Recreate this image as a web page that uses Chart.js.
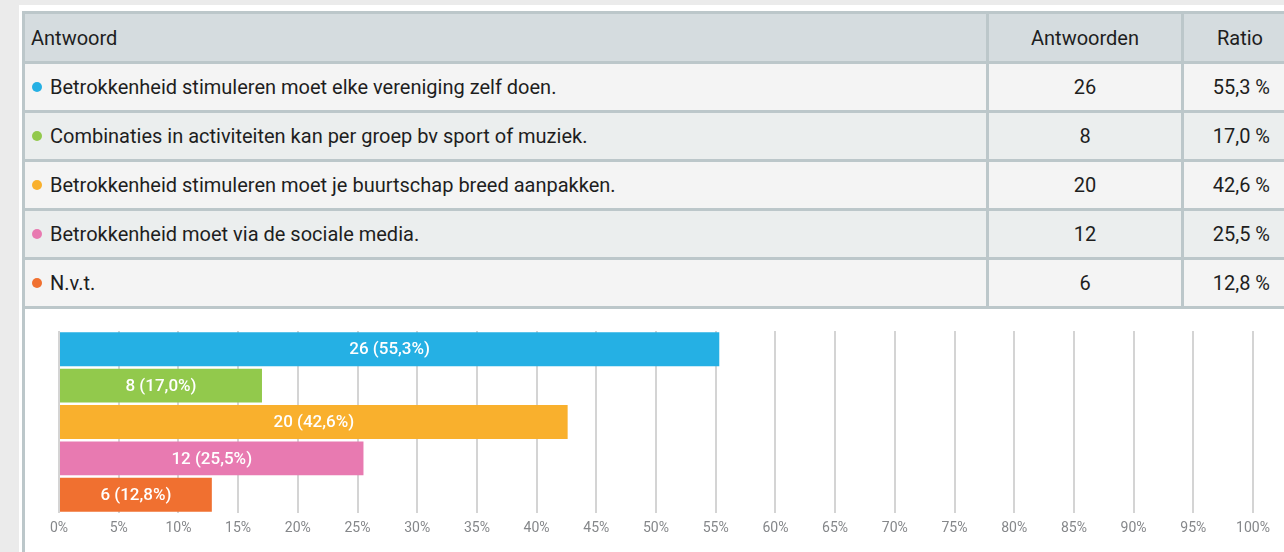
<!DOCTYPE html>
<html>
<head>
    <title>Antwoorden</title>
    <script src="https://cdn.jsdelivr.net/npm/chart.js"></script>
    <style>
        body {
            margin: 0;
            background-color: #ebebeb;
            font-family: Roboto, "Noto Sans", sans-serif;
            overflow: hidden;
            width: 1284px;
            height: 552px;
        }

        .panel {
            position: absolute;
            left: 19px;
            top: 5px;
            width: 1300px;
            height: 560px;
            background-color: #fff;
        }

        table {
            position: absolute;
            left: 3px;
            top: 6px;
            border-collapse: collapse;
            table-layout: fixed;
            width: 1300px;
            color: #1e1e1e;
            font-size: 20px;
        }

        td, th {
            border: 3px solid #bcc7ca;
            height: 46px;
            padding: 0;
            font-weight: normal;
        }

        th {
            background-color: #d5dcdf;
            height: 47px;
        }

        tr.odd td { background-color: #f4f4f4; }
        tr.even td { background-color: #ebeeee; }

        .c1 { text-align: left; padding-left: 6px; }
        .c2 { text-align: center; }
        .c3 { text-align: right; padding-right: 52px; }
        th.c3 { text-align: left; padding-left: 33px; }

        .dot {
            display: inline-block;
            width: 10px;
            height: 10px;
            border-radius: 50%;
            margin: 0 8px 2px 1px;
        }

        .chart-box {
            position: absolute;
            left: 3px;
            top: 300px;
            width: 1300px;
            height: 260px;
            border-left: 3px solid #bcc7ca;
        }

        #chartWrap {
            position: absolute;
            left: 25px;
            top: 310px;
            width: 1259px;
            height: 242px;
        }
    </style>
</head>
<body>
    <div class="panel">
        <div class="chart-box"></div>
        <table>
            <colgroup>
                <col style="width: 964px">
                <col style="width: 195px">
                <col style="width: 141px">
            </colgroup>
            <thead>
                <tr>
                    <th class="c1">Antwoord</th>
                    <th class="c2">Antwoorden</th>
                    <th class="c3">Ratio</th>
                </tr>
            </thead>
            <tbody id="rows"></tbody>
        </table>
    </div>
    <div id="chartWrap"><canvas id="chart"></canvas></div>

    <script>
        var answers = [
            'Betrokkenheid stimuleren moet elke vereniging zelf doen.',
            'Combinaties in activiteiten kan per groep bv sport of muziek.',
            'Betrokkenheid stimuleren moet je buurtschap breed aanpakken.',
            'Betrokkenheid moet via de sociale media.',
            'N.v.t.'
        ];
        var counts = [26, 8, 20, 12, 6];
        var ratios = [55.3, 17.0, 42.6, 25.5, 12.8];
        var colors = ['#25b0e4', '#92c94c', '#f9b02d', '#e87ab1', '#f07030'];

        function fmt(v) {
            return v.toFixed(1).replace('.', ',');
        }

        // Fill the table
        var rowsEl = document.getElementById('rows');
        answers.forEach(function(a, i) {
            var tr = document.createElement('tr');
            tr.className = i % 2 === 0 ? 'odd' : 'even';
            tr.innerHTML =
                '<td class="c1"><span class="dot" style="background:' + colors[i] + '"></span>' + a + '</td>' +
                '<td class="c2">' + counts[i] + '</td>' +
                '<td class="c3">' + fmt(ratios[i]) + ' %</td>';
            rowsEl.appendChild(tr);
        });

        // Labels inside the bars
        var barLabels = {
            id: 'barLabels',
            afterDatasetsDraw: function(chart) {
                var ctx = chart.ctx;
                var meta = chart.getDatasetMeta(0);
                ctx.save();
                ctx.fillStyle = '#ffffff';
                ctx.font = '500 17px Roboto, sans-serif';
                ctx.textAlign = 'center';
                ctx.textBaseline = 'middle';
                meta.data.forEach(function(bar, i) {
                    var x = (bar.base + bar.x) / 2;
                    ctx.fillText(counts[i] + ' (' + fmt(ratios[i]) + '%)', x, bar.y + 1);
                });
                ctx.restore();
            }
        };

        var chart = new Chart(document.getElementById('chart'), {
            type: 'bar',
            data: {
                labels: answers,
                datasets: [{
                    data: ratios,
                    backgroundColor: colors,
                    borderWidth: 0,
                    categoryPercentage: 1,
                    barPercentage: 0.93
                }]
            },
            options: {
                indexAxis: 'y',
                responsive: true,
                maintainAspectRatio: false,
                animation: false,
                layout: {
                    padding: { left: 34, right: 31, top: 21, bottom: 9 }
                },
                plugins: {
                    legend: { display: false },
                    tooltip: { enabled: false }
                },
                scales: {
                    x: {
                        min: 0,
                        max: 100,
                        ticks: {
                            stepSize: 5,
                            color: '#85878a',
                            font: { family: 'Roboto', size: 14 },
                            padding: 7,
                            callback: function(v) { return v + '%'; }
                        },
                        grid: {
                            color: '#d4d4d4',
                            lineWidth: 2,
                            drawTicks: false
                        },
                        border: { display: false },
                        afterFit: function(s) { s.height = 30; }
                    },
                    y: {
                        display: false
                    }
                }
            },
            plugins: [barLabels]
        });
    </script>
</body>
</html>
